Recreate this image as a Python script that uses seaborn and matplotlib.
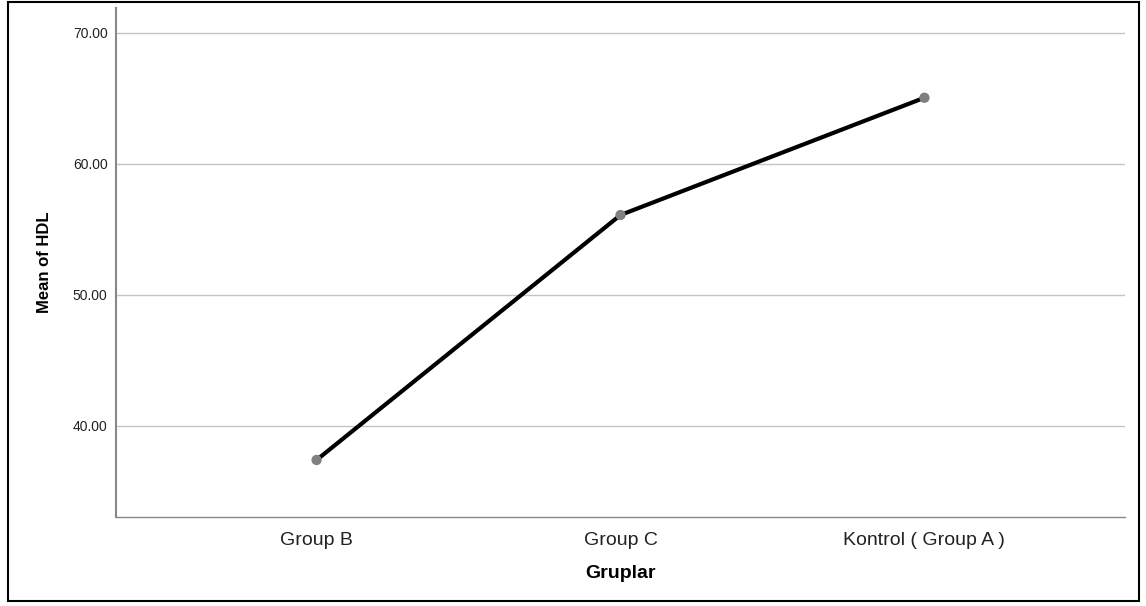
import matplotlib
matplotlib.use('Agg')
import matplotlib.pyplot as plt
import matplotlib.patches as patches
import seaborn as sns
import pandas as pd

sns.set_theme(style='white')
plt.rcParams['font.family'] = ['Liberation Sans', 'DejaVu Sans']

groups = ['Group B', 'Group C', 'Kontrol ( Group A )']
hdl_means = [37.4, 56.1, 65.05]
y_ticks = [40, 50, 60, 70]

df = pd.DataFrame({'Gruplar': groups, 'HDL': hdl_means})

fig = plt.figure(figsize=(11.46, 6.06), dpi=100)
ax = fig.add_axes([0.1012, 0.1469, 0.8805, 0.8399])

sns.lineplot(data=df, x='Gruplar', y='HDL', color='black', lw=3, sort=False, ax=ax, zorder=3)
sns.scatterplot(data=df, x='Gruplar', y='HDL', color='#808080', s=55, edgecolor='none', ax=ax, zorder=4)

ax.set_xlim(-0.66, 2.66)
ax.set_ylim(33.05, 71.9)
ax.set_yticks(y_ticks)
ax.set_yticklabels([f'{v:.2f}' for v in y_ticks])
ax.yaxis.grid(True, color='#c4c4c4', lw=1)
ax.xaxis.grid(False)
ax.set_axisbelow(True)

for side in ['top', 'right']:
    ax.spines[side].set_visible(False)
ax.spines['left'].set_color('#888888')
ax.spines['bottom'].set_color('#888888')
ax.spines['left'].set_linewidth(1.5)
ax.spines['bottom'].set_linewidth(1)

ax.tick_params(axis='y', length=0, pad=6, labelsize=10, labelcolor='#222222')
ax.tick_params(axis='x', length=0, pad=11, labelsize=14, labelcolor='#222222')

ax.set_xlabel('Gruplar', fontsize=14, fontweight='bold', color='black', labelpad=11)
ax.set_ylabel('Mean of HDL', fontsize=12, fontweight='bold', color='black', labelpad=15)

# outer frame
fig.patches.append(patches.Rectangle((8 / 1146, 5 / 606), 1131 / 1146, 599 / 606,
                                     transform=fig.transFigure, fill=False,
                                     edgecolor='black', lw=1.5))

fig.savefig('out.png', dpi=100)
